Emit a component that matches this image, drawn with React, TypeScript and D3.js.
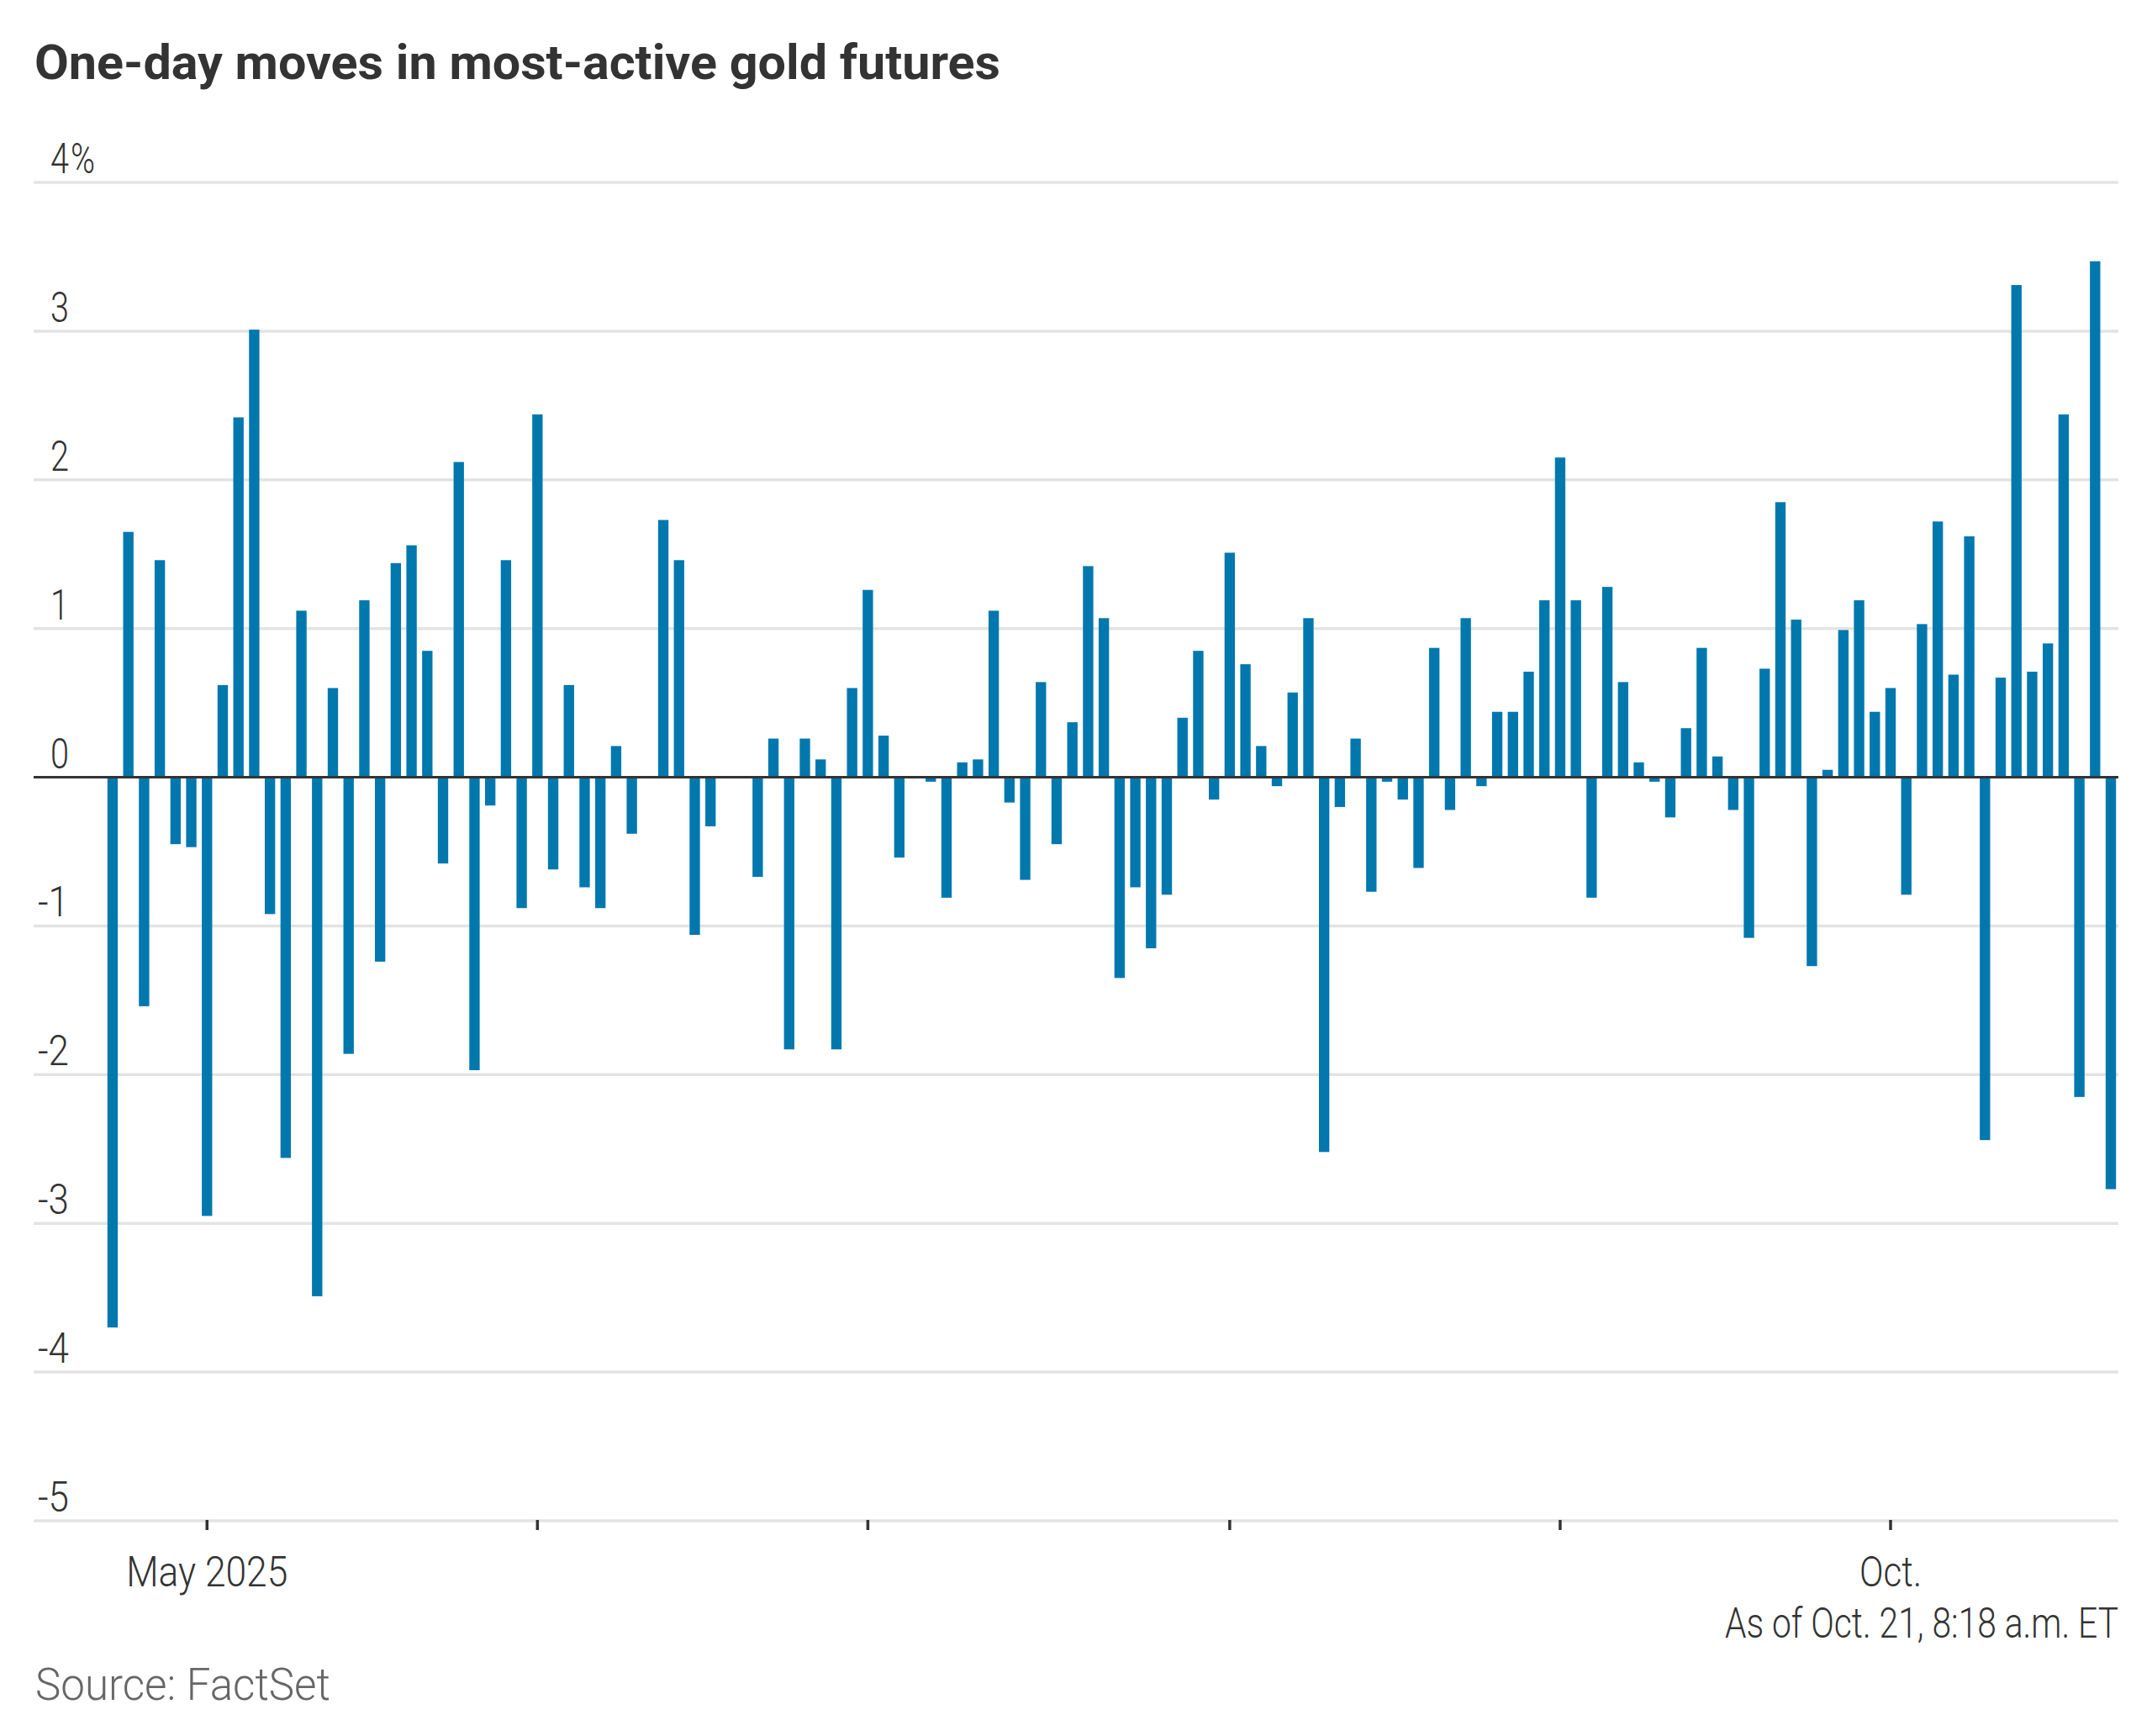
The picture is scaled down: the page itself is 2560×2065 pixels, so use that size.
import React from 'react';
import * as d3 from 'd3';

// chart text
const title = 'One-day moves in most-active gold futures';
const note = 'As of Oct. 21, 8:18 a.m. ET';
const source = 'Source: FactSet';

// trading days shown on the x axis
const firstDay = '2025-04-23';
const lastDay = '2025-10-21';
const holidays = ['2025-05-26', '2025-09-01'];

// one-day % change, one per trading day (null = no bar)
const moves: (number | null)[] = [
  -3.70, 1.65, -1.54, 1.46, -0.45, -0.47,
  -2.95, 0.62, 2.42, 3.01, -0.92, -2.56, 1.12, -3.49, 0.60, -1.86, 1.19, -1.24, 1.44, 1.56,
  0.85, -0.58, 2.12, -1.97, -0.19, 1.46, -0.88,
  2.44, -0.62, 0.62, -0.74, -0.88, 0.21, -0.38, null, 1.73, 1.46, -1.06, -0.33, null, null,
  -0.67, 0.26, -1.83, 0.26, 0.12, -1.83, 0.60,
  1.26, 0.28, -0.54, null, -0.03, -0.81, 0.10, 0.12, 1.12, -0.17, -0.69, 0.64, -0.45, 0.37,
  1.42, 1.07, -1.35, -0.74, -1.15, -0.79, 0.40, 0.85, -0.15,
  1.51, 0.76, 0.21, -0.06, 0.57, 1.07, -2.52, -0.20, 0.26, -0.77, -0.03, -0.15, -0.61, 0.87,
  -0.22, 1.07, -0.06, 0.44, 0.44, 0.71, 1.19,
  2.15, 1.19, -0.81, 1.28, 0.64, 0.10, -0.03, -0.27, 0.33, 0.87, 0.14, -0.22, -1.08, 0.73,
  1.85, 1.06, -1.27, 0.05, 0.99, 1.19, 0.44,
  0.60, -0.79, 1.03, 1.72, 0.69, 1.62, -2.44, 0.67, 3.31, 0.71, 0.90, 2.44, -2.15, 3.47, -2.77,
];

const yTicks = [4, 3, 2, 1, 0, -1, -2, -3, -4, -5];
const monthTicks = ['2025-05-01', '2025-06-02', '2025-07-01', '2025-08-01', '2025-09-02', '2025-10-01'];
const monthLabels = ['May 2025', '', '', '', '', 'Oct.'];

const fmt = d3.timeFormat('%Y-%m-%d');
const parse = d3.timeParse('%Y-%m-%d');

const tradingDays = d3.timeDay
  .range(parse(firstDay)!, d3.timeDay.offset(parse(lastDay)!, 1))
  .filter(d => d.getDay() !== 0 && d.getDay() !== 6 && !holidays.includes(fmt(d)))
  .map(d => fmt(d));

const data = tradingDays.map((date, i) => ({ date, value: moves[i] }));

if (typeof document !== 'undefined') document.body.style.margin = '0';

const W = 2560;
const H = 2065;
const FONT = 'Roboto, "Open Sans", sans-serif';

export default function App() {
  const x = d3.scaleBand<string>()
    .domain(tradingDays)
    .range([124.6, 2520.4])
    .paddingInner(0.34)
    .paddingOuter(0.17);

  const y = d3.scaleLinear().domain([-5, 4]).range([1809, 217]);

  const gridLeft = 40;
  const gridRight = 2520;

  // label width for the narrow tick font
  const labelWidth = (v: number) => String(Math.abs(v)).length * 22 + (v < 0 ? 15 : 0);

  return (
    <svg width={W} height={H} style={{ display: 'block', background: '#fff' }} fontFamily={FONT}>
      <rect width={W} height={H} fill="#fff" />

      <text x={41} y={94} fontSize={57} fontWeight={700} fill="#333"
        textLength={1149} lengthAdjust="spacingAndGlyphs">{title}</text>

      {/* gridlines */}
      {yTicks.filter(t => t !== 0).map(t => (
        <line key={t} x1={gridLeft} x2={gridRight} y1={y(t)} y2={y(t)} stroke="#e3e3e3" strokeWidth={3.5} />
      ))}

      {/* y labels */}
      {yTicks.map(t => (
        <g key={'l' + t} fontWeight={300}>
          <text x={82} y={y(t) - 11} fontSize={50} fill="#333" textAnchor="end"
            textLength={labelWidth(t)} lengthAdjust="spacingAndGlyphs">{t < 0 ? '-' + Math.abs(t) : t}</text>
          {t === yTicks[0] && (
            <text x={84} y={y(t) - 11} fontSize={50} fill="#333" textLength={29} lengthAdjust="spacingAndGlyphs">%</text>
          )}
        </g>
      ))}

      {/* bars */}
      {data.filter(d => d.value !== null).map(d => {
        const v = d.value as number;
        return (
          <rect key={d.date} x={x(d.date)} width={x.bandwidth()}
            y={y(Math.max(0, v))} height={Math.abs(y(v) - y(0))} fill="#0078ae" />
        );
      })}

      <line x1={gridLeft} x2={gridRight} y1={y(0)} y2={y(0)} stroke="#333" strokeWidth={3} />

      {/* x ticks */}
      {monthTicks.map((m, i) => {
        const cx = (x(m) ?? 0) + x.bandwidth() / 2;
        return (
          <g key={m}>
            <line x1={cx} x2={cx} y1={y(-5) - 1} y2={y(-5) + 11} stroke="#333" strokeWidth={3.5} />
            {monthLabels[i] && (
              <text x={cx} y={1887} fontSize={50} fontWeight={300} fill="#333" textAnchor="middle"
                textLength={monthLabels[i].length > 4 ? 192 : 74} lengthAdjust="spacingAndGlyphs">{monthLabels[i]}</text>
            )}
          </g>
        );
      })}

      <text x={2520} y={1948} fontSize={50} fontWeight={300} fill="#333" textAnchor="end"
        textLength={468} lengthAdjust="spacingAndGlyphs">{note}</text>

      <text x={42} y={2022} fontSize={54} fontWeight={300} fill="#666"
        textLength={351} lengthAdjust="spacingAndGlyphs">{source}</text>
    </svg>
  );
}
